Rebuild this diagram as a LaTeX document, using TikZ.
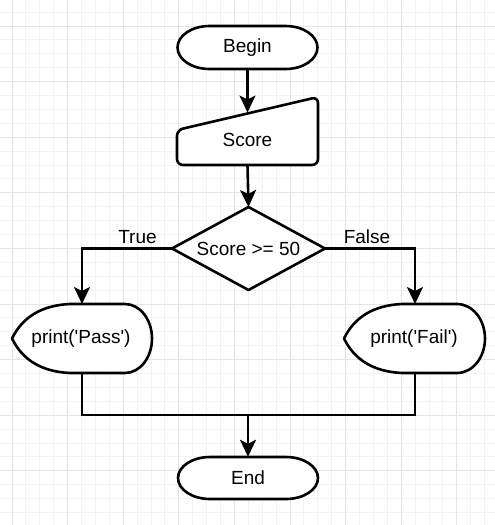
\documentclass[tikz,border=0pt]{standalone}
\usepackage{fontspec}
\setmainfont{Liberation Sans}
\usetikzlibrary{arrows.meta}
\definecolor{gridminor}{HTML}{F2F2F2}
\definecolor{gridmajor}{HTML}{E4E4E4}
\tikzset{
  minorgrid/.style={draw=gridminor,line width=0.9pt},
  majorgrid/.style={draw=gridmajor,line width=0.9pt},
  outline/.style={draw=black,line width=2.6pt,fill=white,line join=round},
  conn/.style={draw=black,line width=2.6pt},
  arr/.style={conn,-{Stealth[length=17pt,width=16pt,inset=4pt]}},
  txt/.style={font=\fontsize{19}{21}\selectfont,inner sep=0pt},
  lbl/.style={font=\fontsize{19}{21}\selectfont,inner sep=0pt}
}
\begin{document}
\begin{tikzpicture}[x=1pt,y=-1pt]
\useasboundingbox (0,0) rectangle (495,525);
\fill[white] (0,0) rectangle (495,525);
% grid
\foreach \i in {-1,...,35} {\draw[minorgrid] ({12+13.9*\i},0) -- ({12+13.9*\i},525);}
\foreach \j in {-2,...,37} {\draw[minorgrid] (0,{26+13.9*\j}) -- (495,{26+13.9*\j});}
\foreach \i in {0,...,8} {\draw[majorgrid] ({12+55.6*\i},0) -- ({12+55.6*\i},525);}
\foreach \j in {0,...,9} {\draw[majorgrid] (0,{26+55.6*\j}) -- (495,{26+55.6*\j});}

% Begin terminator
\draw[outline] (209.5,26) -- (285.5,26) arc[start angle=-90,end angle=90,x radius=32,y radius=21.5]
  -- (209.5,69) arc[start angle=90,end angle=270,x radius=32,y radius=21.5] -- cycle;
\node[txt,minimum width=141pt,minimum height=43pt] (begin) at (247.5,47.5) {Begin};

% Score manual input
\draw[outline,rounded corners=6pt] (177,130) -- (318,97) -- (318,165) -- (177,165) -- cycle;
\node[txt] (score) at (247.5,140) {Score};
\coordinate (scoretop) at (247.5,112.5);
\coordinate (scorebot) at (247.5,165);

% Decision diamond
\draw[outline] (172,248.5) -- (248.5,207) -- (325,248.5) -- (248.5,290) -- cycle;
\node[txt] (dec) at (248.5,249) {Score >= 50};
\coordinate (decN) at (248.5,207);
\coordinate (decW) at (172,248.5);
\coordinate (decE) at (325,248.5);

% Pass display
\draw[outline] (12,338.5) .. controls (22.7,316.7) and (42,305.3) .. (70,304) -- (125,304)
  arc[start angle=-90,end angle=90,x radius=27,y radius=34.5] -- (70,373)
  .. controls (42,371.7) and (22.7,360.3) .. cycle;
\node[txt] (pass) at (81,339) {print(\textquotesingle Pass\textquotesingle)};
\coordinate (passN) at (82,304);
\coordinate (passS) at (82,373);

% Fail display
\draw[outline] (344,338.5) .. controls (354.7,316.7) and (374,305.3) .. (402,304) -- (457,304)
  arc[start angle=-90,end angle=90,x radius=28,y radius=34.5] -- (402,373)
  .. controls (374,371.7) and (354.7,360.3) .. cycle;
\node[txt] (fail) at (414,339) {print(\textquotesingle Fail\textquotesingle)};
\coordinate (failN) at (415,304);
\coordinate (failS) at (415,373);

% End terminator
\draw[outline] (210,457) -- (286,457) arc[start angle=-90,end angle=90,x radius=32,y radius=21]
  -- (210,499) arc[start angle=90,end angle=270,x radius=32,y radius=21] -- cycle;
\node[txt,minimum width=140pt,minimum height=42pt] (end) at (248,478) {End};

% connectors
\draw[arr] (begin.south) -- (scoretop);
\draw[arr] (scorebot) -- (decN);
\draw[arr] (decW) -| (passN);
\draw[arr] (decE) -| (failN);
\coordinate (joinL) at (82,415);
\coordinate (joinR) at (415,415);
\coordinate (joinM) at (248,415);
\draw[conn,line join=miter] (passS) -- (joinL) -- (joinR) -- (failS);
\draw[arr] (joinM) -- (end.north);

% labels
\node[lbl] (truelbl) at (137.5,237) {True};
\node[lbl] (falselbl) at (367,237) {False};
\end{tikzpicture}
\end{document}
